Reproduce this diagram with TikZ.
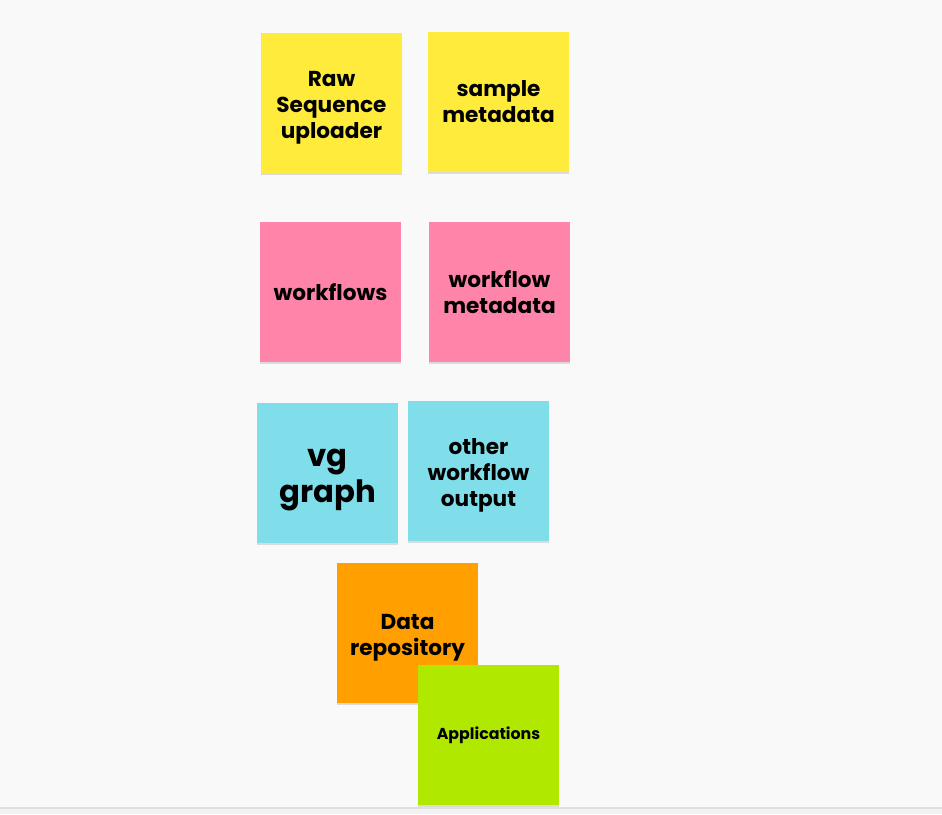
\documentclass[tikz,border=0pt]{standalone}
\usepackage{fontspec}
\setmainfont{Poppins}
\usetikzlibrary{shadows}
\definecolor{bgcol}{HTML}{F9F9F9}
\definecolor{notey}{HTML}{FFEB3B}
\definecolor{notep}{HTML}{FF84AA}
\definecolor{notec}{HTML}{80DEEA}
\definecolor{noteo}{HTML}{FF9F00}
\definecolor{noteg}{HTML}{B0E800}
\newcommand{\topgap}[1]{\rule{0pt}{#1}}
\begin{document}
\begin{tikzpicture}[x=0.02cm, y=-0.02cm,
    note/.style={rectangle, minimum width=2.82cm, minimum height=2.8cm, inner sep=0pt,
        align=center, font=\bfseries\fontsize{12.3}{14.7}\selectfont,
        drop shadow={shadow xshift=0pt, shadow yshift=-1pt, fill=black!25, opacity=0.5}},
    bignote/.style={note, font=\bfseries\fontsize{17.5}{20.5}\selectfont},
    smallnote/.style={note, font=\bfseries\fontsize{9}{10.5}\selectfont}]
    \fill[bgcol] (0,0) rectangle (942,814);
    \useasboundingbox (0,0) rectangle (942,814);
    \fill[black!12] (0,807) rectangle (942,809);
    \fill[black!5] (0,809) rectangle (942,814);

    \node[note, fill=notey] (raw) at (331.5,103) {\topgap{13.8pt}Raw\\Sequence\\uploader};
    \node[note, fill=notey] (sample) at (498.5,102) {sample\\metadata};

    \node[note, fill=notep] (workflows) at (330.5,292) {workflows};
    \node[note, fill=notep] (wfmeta) at (499.5,292) {workflow\\metadata};

    \node[bignote, fill=notec] (vg) at (327.5,473) {\topgap{17.5pt}vg\\graph};
    \node[note, fill=notec] (other) at (478.5,471) {\topgap{13.8pt}other\\workflow\\output};

    \node[note, fill=noteo] (repo) at (407.5,633) {\topgap{13.8pt}Data\\repository};
    \node[smallnote, fill=noteg] (apps) at (488.5,735) {Applications};
\end{tikzpicture}
\end{document}
